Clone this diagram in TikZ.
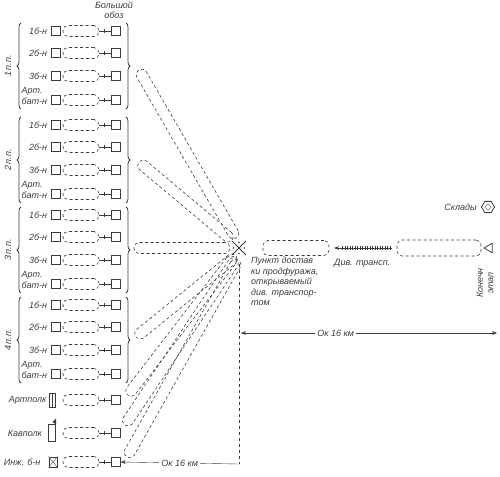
\documentclass[tikz,border=0pt]{standalone}
\usepackage{fontspec}
\setmainfont{Liberation Sans}
\usetikzlibrary{arrows.meta,positioning,calc,decorations.pathreplacing,decorations.markings,shapes.geometric}
\definecolor{ink}{HTML}{3C3C3C}

% dashed haul loop between two points
\newcommand{\haulloop}[3]{%
  \path let \p1=($(#3)-(#2)$), \n1={atan2(\y1,\x1)}, \n2={veclen(\x1,\y1)} in
    node[route,rotate=\n1,minimum width=\n2] (#1) at ($(#2)!0.5!(#3)$) {};}

\begin{document}
\begin{tikzpicture}[
  x=1pt,y=-1pt,
  txt/.style={font=\itshape\fontsize{9}{10.5}\selectfont,inner sep=0pt,text=ink},
  sq/.style={draw=ink,thick,minimum size=8.5pt,inner sep=0pt},
  route/.style={draw=ink,line width=0.6pt,dash pattern=on 3pt off 2.5pt,rounded corners=5pt,minimum height=11pt,inner sep=0pt},
  link/.style={draw=ink,postaction={decorate},decoration={markings,mark=at position 0.4 with {\draw[ink] (0,-2pt) -- (0,2pt);}}},
  grp/.style={draw=ink,thick,decorate,decoration={brace,amplitude=4pt}}
]
\useasboundingbox (0,0) rectangle (500,476);

% regiments
\foreach \r/\b in {1/31,2/125,3/215,4/305}{
  \foreach \k/\d in {1/0,2/22,3/45,4/69}{
    \node[sq] (a\r\k) at (56,\b+\d) {};
    \node[sq] (w\r\k) at (116,\b+\d) {};
    \node[route,minimum width=36pt] (t\r\k) at (81,\b+\d) {};
    \draw[link] (t\r\k.east) -- (w\r\k.west);
  }
  \foreach \k in {1,2,3}
    \node[txt,left=4pt of a\r\k] {\k б-н};
  \node[txt,align=left,anchor=south east] at ($(a\r4.south west)+(-4,0)$) {Арт.\\бат-н};
  \node[txt,rotate=90] (p\r) at (8,\b+35) {\r\,п.п.};
  \draw[grp] (21,\b+78) -- (21,\b-8);
  \draw[grp] (126,\b-8) -- (126,\b+78);
}
\node[txt,align=center] (obz) at (114,10) {Большой\\обоз};

% separate units
\node[draw=ink,thick,minimum width=6pt,minimum height=14pt,inner sep=0pt] (art) at (52,400) {};
\draw[ink] (art.north) -- (art.south);
\node[draw=ink,thick,minimum width=7pt,minimum height=17pt,inner sep=0pt] (kav) at (52,433) {};
\draw[ink,fill=ink] ($(kav.north east)+(0,-5)$) -- ++(0,5) -- ++(-3,-2) -- cycle;
\node[draw=ink,thick,minimum width=8pt,minimum height=10pt,inner sep=0pt] (inj) at (53,462) {};
\draw[ink] (inj.north west) -- (inj.south east) (inj.north east) -- (inj.south west);
\node[txt,left=2pt of art] {Артполк};
\node[txt,left=6pt of kav] {Кавполк};
\node[txt,left=8pt of inj] {Инж. б-н};
\foreach \u/\y in {art/400,kav/433,inj/462}{
  \node[sq] (w\u) at (116,\y) {};
  \node[route,minimum width=36pt] (t\u) at (81,\y) {};
  \draw[link] (t\u.east) -- (w\u.west);
}

% supply point
\coordinate (pp) at (239,248);
\draw[ink,thick] (pp) +(-7,-7) -- +(7,7) (pp) +(-7,7) -- +(7,-7);
\foreach \a in {0,90,180,270}
  \fill[ink] ($(pp)+(\a:5.5)$) circle (0.9);

% loops to the units
\haulloop{l1}{139,70}{236,238}
\haulloop{l2}{139,162}{232,240}
\haulloop{l3}{134,248}{230,248}
\haulloop{l4}{136,337}{236,256}
\haulloop{l5}{128,395}{234,257}
\haulloop{l6}{125,425}{236,259}
\haulloop{l7}{127,457}{238,260}

\coordinate (vb) at (239,464);
\draw[ink,dash pattern=on 3pt off 3pt] ($(pp)+(0,16)$) -- (vb);
\draw[ink,{Stealth[length=5pt]}-] (winj.east) -- node[txt,fill=white,inner sep=2pt] {Ок 16 км} (vb);

\coordinate (ml) at (241,333);
\coordinate (mr) at (497,333);
\draw[ink,{Stealth[length=5pt]}-{Stealth[length=5pt]}] (ml) -- node[txt,fill=white,inner sep=2pt,pos=0.37] {Ок 16 км} (mr);

\node[txt,align=left,anchor=north west] (pnt) at (251,257) {Пункт достав\\ки продфуража,\\открываемый\\див. транспор-\\том};

% divisional transport
\node[route,minimum width=66pt,minimum height=15pt] (s1) at (296,248) {};
\coordinate (rl) at (334,248);
\coordinate (rr) at (392,248);
\draw[ink,thick,-{Stealth[length=5pt]}] (rr) -- (rl);
\draw[ink,line width=4pt,dash pattern=on 0.5pt off 2pt] ($(rr)+(-2,0)$) -- ($(rl)+(6,0)$);
\node[txt,anchor=north west] (dt) at (334,259) {Див. трансп.};
\node[route,minimum width=84pt,minimum height=16pt] (s2) at (439,248) {};
\node[draw=ink,thick,isosceles triangle,isosceles triangle apex angle=60,shape border rotate=180,inner sep=2.2pt] (ke) at (490,248) {};
\node[txt,rotate=90,align=center] (ket) at (485,283) {Конечн\\этап};

% depots
\node[draw=ink,thick,regular polygon,regular polygon sides=6,minimum size=13pt,inner sep=0pt] (sk) at (488,207) {};
\draw[ink] (sk.center) circle (2.5);
\node[txt,left=4pt of sk] (skt) {Склады};
\end{tikzpicture}
\end{document}
